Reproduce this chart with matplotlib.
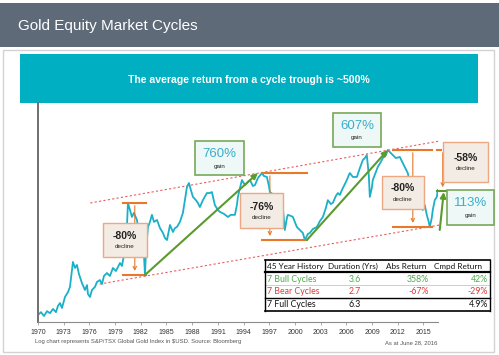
import matplotlib
matplotlib.use("Agg")
import matplotlib.pyplot as plt
from matplotlib.patches import Rectangle
from matplotlib.lines import Line2D

# S&P/TSX Global Gold Index (USD)
years = [1970.00, 1970.35, 1970.70, 1971.05, 1971.40, 1971.75, 1972.10, 1972.33, 1972.57, 1972.80,
         1973.15, 1973.50, 1973.73, 1973.97, 1974.08, 1974.32, 1974.55, 1974.78, 1974.90, 1975.13,
         1975.48, 1975.72, 1975.83, 1976.07, 1976.30, 1976.65, 1976.88, 1977.23, 1977.47, 1977.70,
         1978.05, 1978.40, 1978.75, 1979.10, 1979.57, 1979.80, 1980.15, 1980.39, 1980.50, 1980.74,
         1980.97, 1981.20, 1981.55, 1981.79, 1982.14, 1982.37, 1982.49, 1982.61, 1982.84, 1983.07,
         1983.30, 1983.54, 1983.89, 1984.24, 1984.59, 1984.82, 1985.06, 1985.29, 1985.41, 1985.76,
         1985.99, 1986.22, 1986.57, 1986.92, 1987.15, 1987.39, 1987.62, 1987.85, 1988.09, 1988.44,
         1988.67, 1988.90, 1989.25, 1989.72, 1990.07, 1990.30, 1990.65, 1991.00, 1991.24, 1991.70,
         1992.17, 1992.52, 1992.99, 1993.22, 1993.34, 1993.58, 1993.81, 1994.16, 1994.51, 1994.75,
         1995.09, 1995.33, 1995.68, 1996.14, 1996.37, 1996.72, 1996.96, 1997.07, 1997.54, 1997.89,
         1998.24, 1998.59, 1998.82, 1999.06, 1999.17, 1999.52, 1999.76, 1999.99, 2000.22, 2000.57,
         2000.92, 2001.16, 2001.51, 2001.74, 2002.09, 2002.56, 2002.91, 2003.26, 2003.61, 2003.84,
         2004.19, 2004.42, 2004.77, 2005.01, 2005.24, 2005.48, 2005.83, 2006.06, 2006.29, 2006.41,
         2006.76, 2007.23, 2007.58, 2007.92, 2008.16, 2008.39, 2008.62, 2008.74, 2008.97, 2009.09,
         2009.44, 2009.67, 2010.02, 2010.26, 2010.61, 2010.84, 2011.07, 2011.42, 2011.77, 2012.24,
         2012.59, 2012.82, 2013.17, 2013.41, 2013.76, 2014.11, 2014.57, 2014.92, 2015.16, 2015.39,
         2015.62, 2015.74, 2015.97, 2016.09, 2016.32, 2016.56, 2016.67]
index = [11.8, 12.6, 11.5, 12.9, 12.3, 13.6, 12.6, 14.6, 15.6, 13.9,
         18.0, 20.2, 22.8, 33.9, 41.0, 35.6, 38.2, 30.9, 28.8, 25.0,
         21.2, 23.8, 19.3, 18.0, 21.2, 22.8, 25.6, 26.8, 24.4, 29.5,
         31.6, 29.5, 35.6, 33.1, 40.0, 37.3, 54.3, 97.7, 164, 139,
         118, 130, 110, 82.9, 68.6, 48.3, 30.2, 54.3, 93.2, 105,
         124, 105, 110, 91.0, 81.0, 72.0, 68.6, 86.9, 97.7, 82.9,
         91.0, 93.2, 105, 130, 175, 239, 262, 222, 189, 175,
         164, 149, 175, 207, 207, 212, 156, 139, 133, 127,
         118, 124, 124, 156, 189, 233, 281, 250, 268, 281,
         244, 250, 295, 331, 309, 302, 244, 212, 198, 189,
         164, 146, 86.9, 115, 124, 121, 118, 105, 93.2, 86.9,
         81.0, 68.6, 79.1, 81.0, 88.9, 93.2, 107, 118, 146, 175,
         160, 164, 193, 207, 198, 222, 256, 281, 316, 331,
         302, 302, 373, 449, 471, 505, 316, 189, 233, 281,
         339, 382, 429, 471, 505, 569, 543, 505, 471, 483,
         419, 382, 331, 268, 222, 198, 175, 139, 156, 124,
         105, 93.2, 115, 139, 175, 189, 222]

tick_years = [1970, 1973, 1976, 1979, 1982, 1985, 1988, 1991, 1994, 1997, 2000, 2003, 2006, 2009, 2012, 2015]

# declines: (start, end, arrow x, peak, trough, label)
declines = [(1979.9, 1982.6, 1981.3, 164, 30.2, "-80%"),
            (1996.1, 2001.4, 1997.07, 331, 68.6, "-76%"),
            (2011.4, 2016.0, 2013.76, 569, 93.2, "-80%")]
# bull legs: (start year, start value, end year, end value)
bulls = [(1982.49, 30.2, 1995.67, 331),
         (2001.39, 68.6, 2010.84, 569),
         (2016.9, 86.9, 2017.37, 212)]
gains = ["760%", "607%", "113%"]

# trend channel (year, level) at both ends
upper_channel = ([1976.1, 2016.9], [164, 703])
lower_channel = ([1977.2, 2016.9], [24.4, 97.7])

table_cols = ["45 Year History", "Duration (Yrs)", "Abs Return", "Cmpd Return"]
table_rows = [["7 Bull Cycles", "3.6", "358%", "42%"],
              ["7 Bear Cycles", "2.7", "-67%", "-29%"],
              ["7 Full Cycles", "6.3", "", "4.9%"]]
row_colors = ["#4caa4c", "#e03a3a", "#111111"]

W, H = 499, 355
teal = "#1ab0c8"
green = "#5b9a2f"
orange = "#e8782a"
narrow = ["Liberation Sans Narrow", "Liberation Sans", "DejaVu Sans"]
calib = ["Lato", "DejaVu Sans"]


def fx(px):
    return px / W


def fy(py):
    return 1 - py / H


def frect(x0, y0, x1, y1, **kw):
    fig.add_artist(Rectangle((fx(x0), fy(y1)), fx(x1) - fx(x0), fy(y0) - fy(y1),
                             transform=fig.transFigure, **kw))


def fline(x0, y0, x1, y1, **kw):
    fig.add_artist(Line2D([fx(x0), fx(x1)], [fy(y0), fy(y1)], transform=fig.transFigure,
                          zorder=6, **kw))


def ftext(px, py, s, **kw):
    fig.text(fx(px), fy(py), s, zorder=7, **kw)


fig = plt.figure(figsize=(W / 100, H / 100), dpi=100)
fig.patch.set_facecolor("white")

# header and panels
frect(0, 3, W, 47, facecolor="#5e6a78", edgecolor="none", zorder=-3)
ftext(18, 26, "Gold Equity Market Cycles", color="white", fontsize=11,
      family=narrow, va="center", ha="left")
frect(3, 50, 494, 352, facecolor="white", edgecolor="#d2d2d2", lw=1, zorder=-3)
frect(20, 54, 478, 103, facecolor="#00afc1", edgecolor="none", zorder=-2)
ftext(249, 80, "The average return from a cycle trough is ~500%", color="white",
      fontsize=7.6, fontweight="bold", family=narrow, ha="center", va="center")

ax = fig.add_axes([fx(38), fy(322), fx(438) - fx(38), fy(103) - fy(322)])
ax.set_zorder(1)
ax.patch.set_alpha(0)
ax.set_yscale("log")
ax.set_xlim(1970, 2016.7)
ax.set_ylim(10, 1717)
ax.plot(years, index, color=teal, lw=1.3)

for s in ["top", "right"]:
    ax.spines[s].set_visible(False)
ax.spines["left"].set_color("#707070")
ax.spines["left"].set_linewidth(1.4)
ax.spines["bottom"].set_color("#8a8a8a")
ax.spines["bottom"].set_linewidth(0.8)
ax.set_yticks([])
ax.minorticks_off()
ax.set_xticks(tick_years)
ax.set_xticklabels([str(y) for y in tick_years], fontsize=5, color="#333333", family=narrow)
ax.tick_params(axis="x", length=2, width=0.5, color="#8a8a8a", pad=3)

# channel lines
ax.plot(*upper_channel, color="#e86060", lw=0.8, ls=(0, (2, 2)), clip_on=False)
ax.plot(*lower_channel, color="#e86060", lw=0.8, ls=(0, (2, 2)), clip_on=False)

# bear cycles
for x0, x1, xa, pk, tr, lab in declines:
    ax.plot([x0, x1], [pk, pk], color=orange, lw=1.5, clip_on=False)
    ax.plot([x0, x1], [tr, tr], color=orange, lw=1.5, clip_on=False)
    ax.annotate("", xy=(xa, tr * 1.03), xytext=(xa, pk),
                arrowprops=dict(arrowstyle="->", color=orange, lw=0.8, mutation_scale=6),
                annotation_clip=False)
# last, still open decline
ax.plot([2016.55, 2017.1], [569, 569], color=orange, lw=1.5, clip_on=False)
ax.annotate("", xy=(2017.25, 222), xytext=(2017.25, 569),
            arrowprops=dict(arrowstyle="->", color=orange, lw=0.8, mutation_scale=6),
            annotation_clip=False)

# bull legs
for x0, v0, x1, v1 in bulls:
    ax.annotate("", xy=(x1, v1), xytext=(x0, v0),
                arrowprops=dict(arrowstyle="-|>", color=green, lw=1.5, mutation_scale=8,
                                shrinkA=0, shrinkB=0),
                annotation_clip=False)
ax.plot([2016.55, 2017.85], [217, 217], color=green, lw=1.5, clip_on=False)

# decline boxes (pixel positions)
dboxes = [(103, 223, 147, 257), (240, 193, 283, 228), (382, 176, 424, 209), (443, 142, 488, 182)]
dlabels = [d[5] for d in declines] + ["-58%"]
for (x0, y0, x1, y1), lab in zip(dboxes, dlabels):
    frect(x0, y0, x1, y1, facecolor="#f3ece4", edgecolor="#eba882", lw=1, zorder=5)
    cx = (x0 + x1) / 2
    cy = (y0 + y1) / 2
    ftext(cx, cy - 4, lab, fontsize=7.5, fontweight="bold", color="#222222",
          family=narrow, ha="center", va="center")
    ftext(cx, cy + 7, "decline", fontsize=4.5, color="#222222",
          family=narrow, ha="center", va="center")

# gain boxes
gboxes = [(195, 141, 244, 175), (333, 113, 381, 147), (447, 190, 494, 225)]
for (x0, y0, x1, y1), lab in zip(gboxes, gains):
    frect(x0, y0, x1, y1, facecolor="#eef8f6", edgecolor="#78a858", lw=1.2, zorder=5)
    cx = (x0 + x1) / 2
    ftext(cx, y0 + 13, lab, fontsize=9.5, color="#3aaecb",
          family=narrow, ha="center", va="center")
    ftext(cx, y0 + 25, "gain", fontsize=4.5, color="#222222",
          family=narrow, ha="center", va="center")

# summary table
tx0, tx1 = 265, 490
frect(tx0, 260, tx1, 311, facecolor="white", edgecolor="none", zorder=5)
fline(tx0, 260, tx1, 260, color="black", lw=1.2)
fline(tx0, 272, tx1, 272, color="black", lw=1.6)
fline(tx0, 285, tx1, 285, color="#bbbbbb", lw=0.5)
fline(tx0, 297.5, tx1, 297.5, color="black", lw=1.0)
fline(tx0, 311, tx1, 311, color="black", lw=1.2)
fline(tx0, 260, tx0, 311, color="black", lw=1.0)
fline(tx1, 260, tx1, 311, color="black", lw=1.0)
hx = [267, 328, 386, 434]
for x, t in zip(hx, table_cols):
    ftext(x, 266.5, t, fontsize=5.9, color="#111111", family=calib, ha="left", va="center")
ry = [279, 291.5, 304.5]
for y, row, c in zip(ry, table_rows, row_colors):
    ftext(267, y, row[0], fontsize=6.3, color=c, family=calib, ha="left", va="center")
    ftext(355, y, row[1], fontsize=6.3, color=c, family=calib, ha="center", va="center")
    ftext(429, y, row[2], fontsize=6.3, color=c, family=calib, ha="right", va="center")
    ftext(488, y, row[3], fontsize=6.3, color=c, family=calib, ha="right", va="center")

# footnotes
ftext(35, 342, "Log chart represents S&P/TSX Global Gold Index in $USD. Source: Bloomberg",
      fontsize=4.2, color="#555555", family=narrow, ha="left", va="center")
ftext(437, 343, "As at June 28, 2016", fontsize=4.2, color="#555555",
      family=narrow, ha="right", va="center")

fig.savefig("out.png", dpi=100)
